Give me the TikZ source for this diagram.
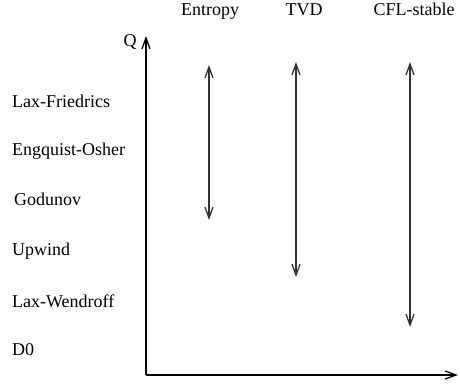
\documentclass[tikz,border=0pt]{standalone}
\usepackage{fontspec}
\setmainfont{Liberation Serif}
\usetikzlibrary{arrows.meta}
\begin{document}
\begin{tikzpicture}[x=1pt,y=-1pt,
  lbl/.style={font=\fontsize{18}{20}\selectfont, inner sep=0pt},
  rng/.style={line width=1.3pt, draw=black!80, {Straight Barb[length=11pt,width=8pt]}-{Straight Barb[length=11pt,width=8pt]}},
  axis/.style={line width=1.3pt, -{Straight Barb[length=11pt,width=8pt]}}]
\useasboundingbox (0,0) rectangle (460,385);
% axes
\coordinate (O) at (146,375);
\coordinate (Qtop) at (146,36);
\coordinate (Xend) at (458,375);
\draw[axis] (O) -- (Qtop);
\draw[axis] (O) -- (Xend);
\node[lbl, anchor=base] (Q) at (130,47) {Q};
% column headers
\node[lbl, anchor=base] (ent) at (210,16) {Entropy};
\node[lbl, anchor=base] (tvd) at (304,16) {TVD};
\node[lbl, anchor=base] (cfl) at (414,16) {CFL-stable};
% left labels
\node[lbl, anchor=base west] (lf) at (12,107) {Lax-Friedrics};
\node[lbl, anchor=base west] (eo) at (12,155) {Engquist-Osher};
\node[lbl, anchor=base west] (gd) at (14,205) {Godunov};
\node[lbl, anchor=base west] (up) at (12,255) {Upwind};
\node[lbl, anchor=base west] (lw) at (12,307) {Lax-Wendroff};
\node[lbl, anchor=base west] (d0) at (12,355) {D0};
% ranges
\coordinate (e1) at (209,65);
\coordinate (e2) at (209,220);
\coordinate (t1) at (296,62);
\coordinate (t2) at (296,277);
\coordinate (c1) at (410,62);
\coordinate (c2) at (410,327);
\draw[rng] (e1) -- (e2);
\draw[rng] (t1) -- (t2);
\draw[rng] (c1) -- (c2);
\end{tikzpicture}
\end{document}
